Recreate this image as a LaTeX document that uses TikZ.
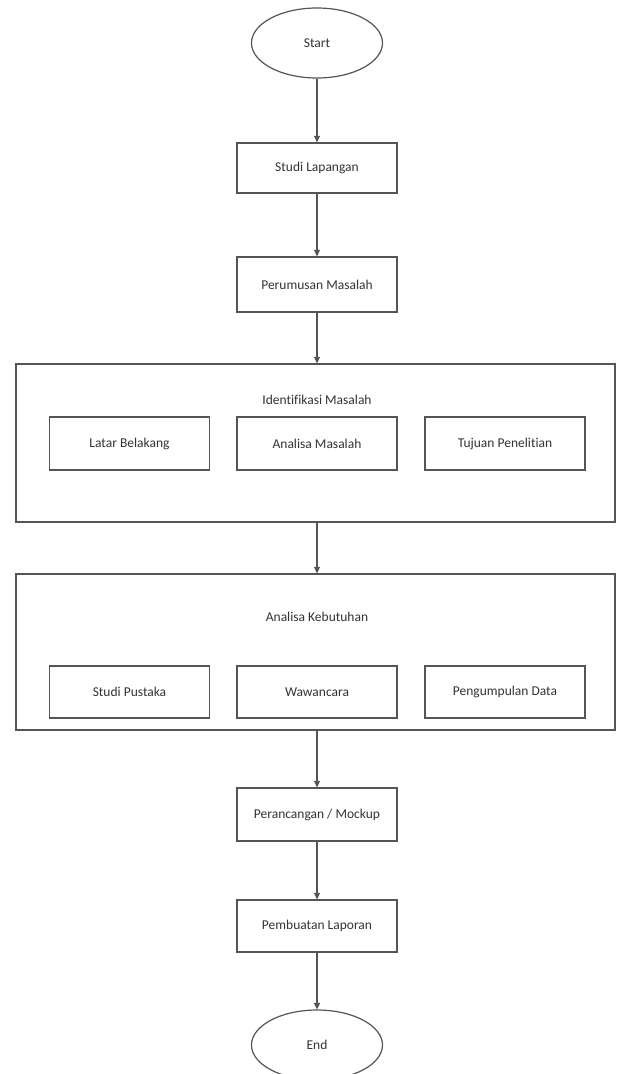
\documentclass[tikz,border=0pt]{standalone}
\usepackage{fontspec}
\setmainfont[Ligatures=NoCommon]{Carlito}
\usetikzlibrary{shapes.geometric,arrows.meta}
\definecolor{linec}{HTML}{555555}
\definecolor{textc}{HTML}{333333}
\tikzset{
  box/.style={draw=linec, line width=1.3pt, rectangle, minimum width=160pt, inner sep=0pt, text=textc, font=\fontsize{13.5}{15}\selectfont},
  bigbox/.style={draw=linec, line width=1.3pt, rectangle, minimum width=599pt, inner sep=0pt},
  term/.style={draw=linec, line width=1.2pt, ellipse, minimum width=131pt, minimum height=70pt, inner sep=0pt, text=textc, font=\fontsize{13.5}{15}\selectfont},
  title/.style={text=textc, font=\fontsize{13.5}{15}\selectfont, inner sep=0pt},
  arr/.style={draw=linec, line width=1.2pt, -{Triangle[width=6pt,length=6.5pt]}}
}
\begin{document}
\begin{tikzpicture}[x=1pt,y=-1pt]
\useasboundingbox (0,0) rectangle (617,1074);
\fill[white] (0,0) rectangle (617,1074);
\node[term] (start) at (317,43) {Start};
\node[box, minimum height=50pt] (s1) at (317,168) {Studi Lapangan};
\node[box, minimum height=55pt] (s2) at (317,284.5) {Perumusan Masalah};
\node[bigbox, minimum height=158pt] (id) at (315.5,443) {};
\node[title] (idt) at (317,400) {Identifikasi Masalah};
\node[box, minimum height=53pt] (lb) at (129.5,443.5) {Latar Belakang};
\node[box, minimum height=53pt] (am) at (317,443.5) {Analisa Masalah};
\node[box, minimum height=53pt] (tp) at (505,443.5) {Tujuan Penelitian};
\node[bigbox, minimum height=156pt] (ak) at (315.5,652) {};
\node[title] (akt) at (317,617) {Analisa Kebutuhan};
\node[box, minimum height=52pt] (sp) at (129.5,692) {Studi Pustaka};
\node[box, minimum height=52pt] (ww) at (317,692) {Wawancara};
\node[box, minimum height=52pt] (pd) at (505,692) {Pengumpulan Data};
\node[box, minimum height=53pt] (p1) at (317,814.5) {Perancangan / Mockup};
\node[box, minimum height=52pt] (p2) at (317,926) {Pembuatan Laporan};
\node[term] (end) at (317,1045) {End};
\draw[arr] (start.south) -- (s1.north);
\draw[arr] (s1.south) -- (s2.north);
\draw[arr] (s2.south) -- (s2.south |- id.north);
\draw[arr] (s2.south |- id.south) -- (s2.south |- ak.north);
\draw[arr] (s2.south |- ak.south) -- (p1.north);
\draw[arr] (p1.south) -- (p2.north);
\draw[arr] (p2.south) -- (end.north);
\end{tikzpicture}
\end{document}
